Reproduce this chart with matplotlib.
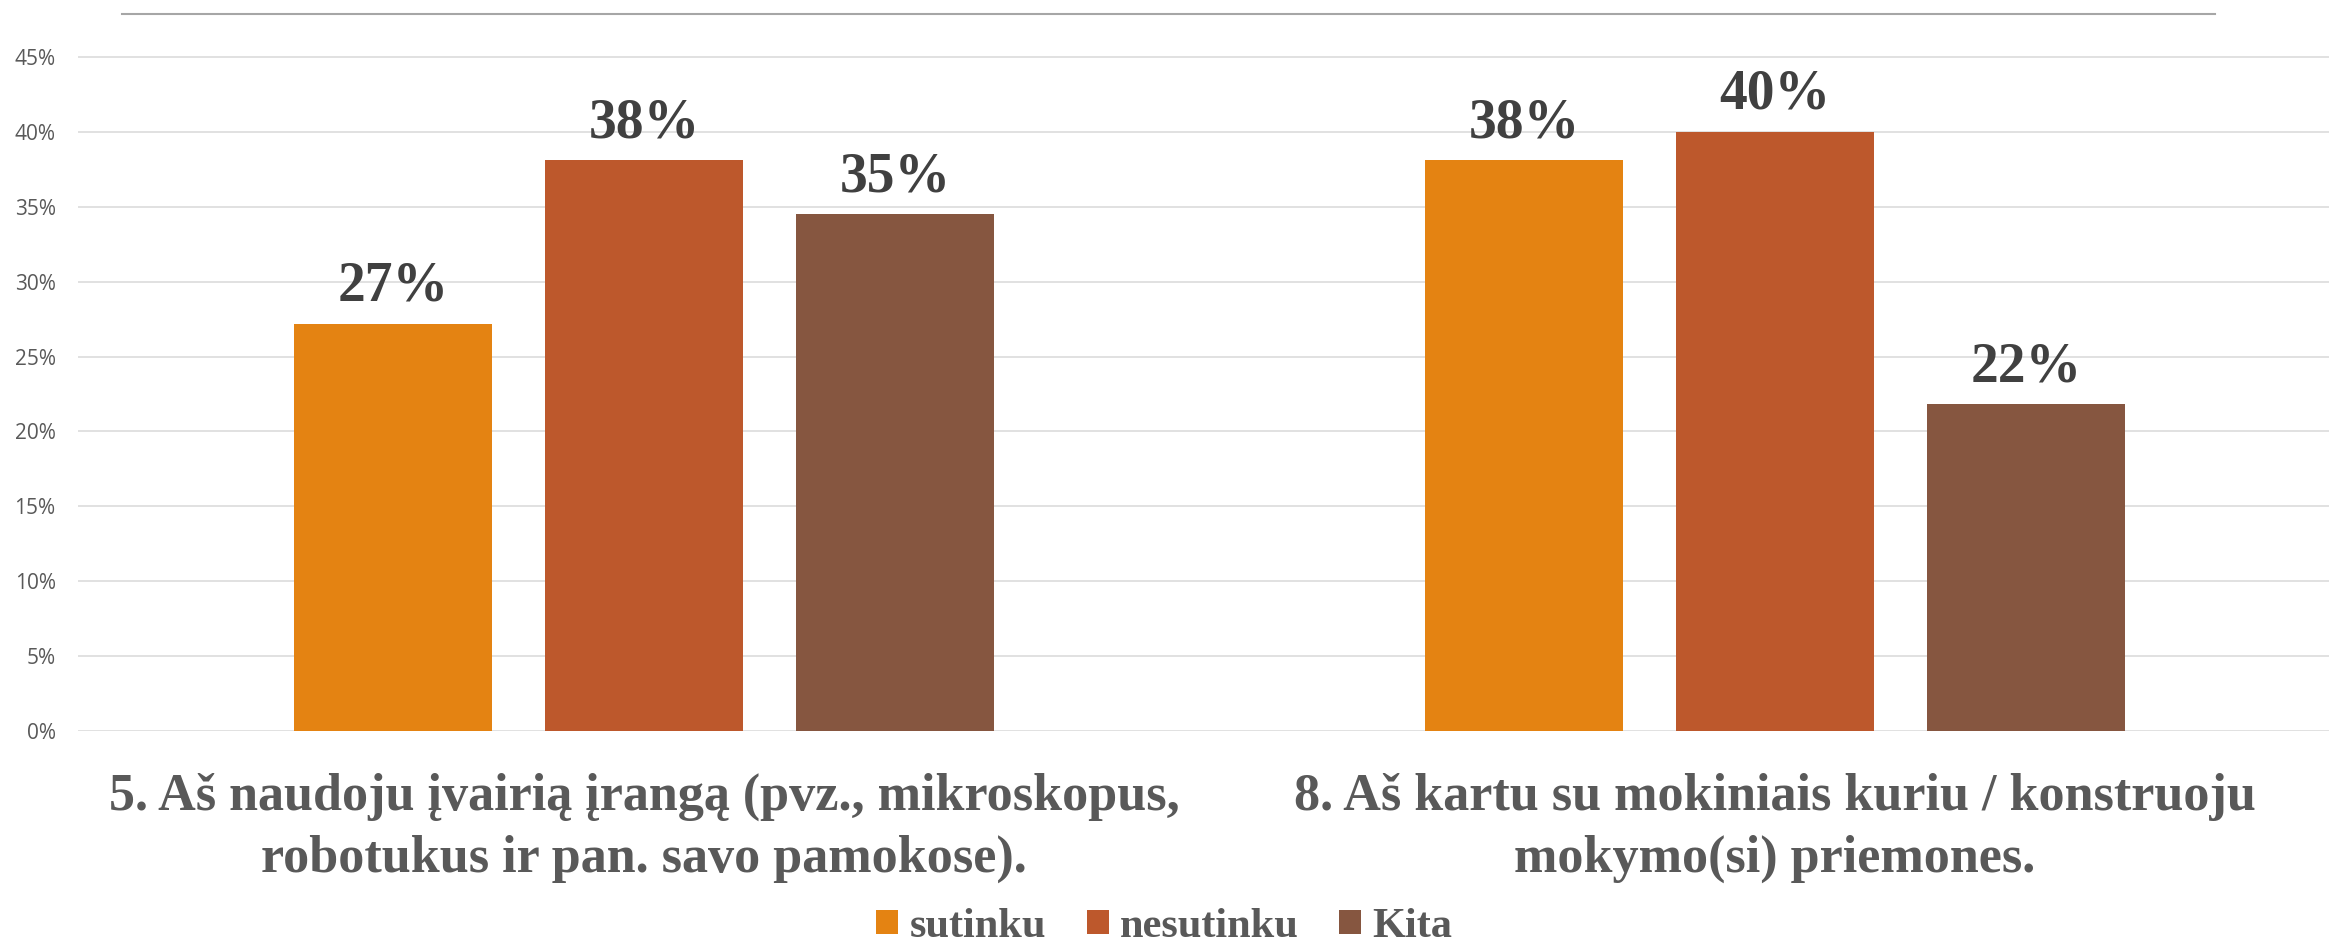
import matplotlib
matplotlib.use("Agg")
import matplotlib.pyplot as plt
from matplotlib.lines import Line2D
from matplotlib.patches import Patch
import matplotlib.transforms as mtransforms
import numpy as np

# ---- data ----
categories_line1 = ["5. Aš naudoju įvairią įrangą (pvz., mikroskopus,",
                    "8. Aš kartu su mokiniais kuriu / konstruoju"]
categories_line2 = ["robotukus ir pan. savo pamokose).",
                    "mokymo(si) priemones."]
series_names = ["sutinku", "nesutinku", "Kita"]
sutinku = [27.2, 38.1]
nesutinku = [38.1, 40.0]
kita = [34.5, 21.8]
labels_sutinku = ["27%", "38%"]
labels_nesutinku = ["38%", "40%"]
labels_kita = ["35%", "22%"]
yticks = [0, 5, 10, 15, 20, 25, 30, 35, 40, 45]

colors = ["#E48312", "#BD582C", "#865640"]
W, H, DPI = 2329, 949, 100
fig = plt.figure(figsize=(W / DPI, H / DPI), dpi=DPI)

ymax = 45.5
ax_left = 78.5 / W
ax_width = 2262 / W
ax_bottom = (H - 731) / H
ax_height = (674 / H) * ymax / 45
ax = fig.add_axes([ax_left, ax_bottom, ax_width, ax_height])

x = np.arange(len(categories_line1))
bw = 0.175
step = 0.222
series = [sutinku, nesutinku, kita]
series_labels = [labels_sutinku, labels_nesutinku, labels_kita]
serif = ["Liberation Serif", "DejaVu Serif"]
for i, (vals, labs) in enumerate(zip(series, series_labels)):
    xpos = x + (i - 1) * step
    ax.bar(xpos, vals, width=bw, color=colors[i], zorder=3, label=series_names[i])
    for xp, v, lab in zip(xpos, vals, labs):
        ax.annotate(lab, (xp, v), xytext=(0, 16.5), textcoords="offset points",
                    ha="center", va="baseline", fontsize=40, fontweight="bold",
                    family=serif, color="#404040", zorder=4)

ax.set_xlim(-0.5, 1.5)
ax.set_ylim(0, ymax)
ax.set_yticks(yticks)
ax.set_yticklabels([f"{t}%" for t in yticks], family=["Open Sans", "DejaVu Sans"],
                   fontsize=15, color="#595959")
ax.tick_params(axis="y", length=0, pad=16.5)
ax.set_xticks([])
ax.grid(axis="y", color="#d9d9d9", linewidth=1.1, zorder=0)
ax.set_axisbelow(True)
for s in ax.spines.values():
    s.set_visible(False)

# category labels (two lines each)
trans = mtransforms.blended_transform_factory(ax.transData, fig.transFigure)
for xi, l1, l2 in zip(x, categories_line1, categories_line2):
    ax.text(xi, (H - 810) / H, l1, transform=trans, ha="center", va="baseline",
            fontsize=37.5, fontweight="bold", family=serif, color="#595959", clip_on=False)
    ax.text(xi, (H - 872) / H, l2, transform=trans, ha="center", va="baseline",
            fontsize=37.5, fontweight="bold", family=serif, color="#595959", clip_on=False)

# top border line
fig.add_artist(Line2D([122 / W, 2215 / W], [(H - 14) / H, (H - 14) / H],
                      transform=fig.transFigure, color="#a6a6a6", linewidth=1.5))

# legend
handles = [Patch(facecolor=c, edgecolor="none") for c in colors]
leg = fig.legend(handles, series_names, loc="lower center", bbox_to_anchor=(0.5, 0.003),
                 ncol=3, frameon=False, handlelength=0.52, handleheight=0.52,
                 handletextpad=0.27, columnspacing=0.95, borderpad=0, borderaxespad=0,
                 prop={"family": serif, "weight": "bold", "size": 30.5})
for t in leg.get_texts():
    t.set_color("#595959")

fig.savefig("out.png", dpi=DPI, facecolor="white")
